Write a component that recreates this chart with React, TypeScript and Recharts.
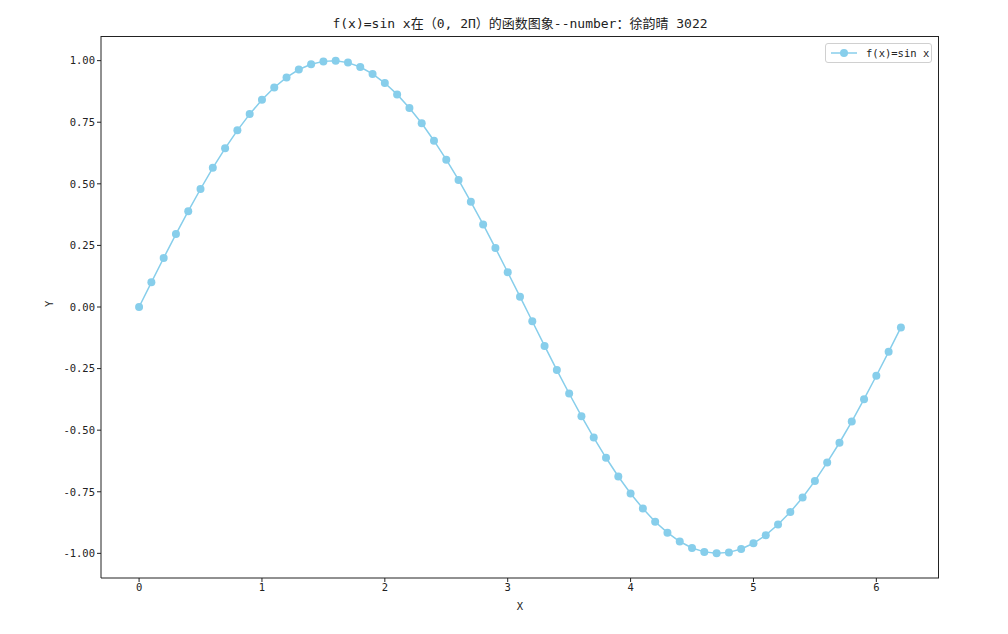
import React from 'react';
import {
  LineChart,
  Line,
  XAxis,
  YAxis,
  Label,
} from 'recharts';

// x from 0 to 6.2, step 0.1
const xValues = [
  0, 0.1, 0.2, 0.3, 0.4, 0.5, 0.6, 0.7, 0.8, 0.9,
  1.0, 1.1, 1.2, 1.3, 1.4, 1.5, 1.6, 1.7, 1.8, 1.9,
  2.0, 2.1, 2.2, 2.3, 2.4, 2.5, 2.6, 2.7, 2.8, 2.9,
  3.0, 3.1, 3.2, 3.3, 3.4, 3.5, 3.6, 3.7, 3.8, 3.9,
  4.0, 4.1, 4.2, 4.3, 4.4, 4.5, 4.6, 4.7, 4.8, 4.9,
  5.0, 5.1, 5.2, 5.3, 5.4, 5.5, 5.6, 5.7, 5.8, 5.9,
  6.0, 6.1, 6.2,
];

// sin x
const yValues = [
  0.0, 0.1, 0.199, 0.296, 0.389, 0.479, 0.565, 0.644, 0.717, 0.783,
  0.841, 0.891, 0.932, 0.964, 0.985, 0.997, 1.0, 0.992, 0.974, 0.946,
  0.909, 0.863, 0.808, 0.746, 0.675, 0.598, 0.516, 0.427, 0.335, 0.239,
  0.141, 0.042, -0.058, -0.158, -0.256, -0.351, -0.443, -0.53, -0.612, -0.688,
  -0.757, -0.818, -0.872, -0.916, -0.952, -0.978, -0.994, -1.0, -0.996, -0.982,
  -0.959, -0.926, -0.883, -0.832, -0.773, -0.706, -0.631, -0.551, -0.465, -0.374,
  -0.279, -0.182, -0.083,
];

const xTicks = [0, 1, 2, 3, 4, 5, 6];
const yTicks = [-1, -0.75, -0.5, -0.25, 0, 0.25, 0.5, 0.75, 1];

const chartTitle = 'f(x)=sin x在（0, 2Π）的函数图象--number：徐韵晴 3022';
const seriesName = 'f(x)=sin x';

const data = xValues.map((x, i) => ({ x, y: yValues[i] }));

const FONT = '"DejaVu Sans Mono", "Noto Sans CJK SC", monospace';
const COLOR = '#87CEEB';
const tickStyle = { fontSize: 10.5, fill: '#222', fontFamily: FONT };

const LegendBox = () => (
  <div
    style={{
      position: 'absolute',
      left: 825,
      top: 43,
      width: 107,
      height: 20,
      border: '1px solid #d0d0d0',
      borderRadius: 3,
      background: '#fff',
      display: 'flex',
      alignItems: 'center',
      fontFamily: FONT,
      fontSize: 10.5,
      color: '#222',
      boxSizing: 'border-box',
    }}
  >
    <svg width={36} height={18}>
      <line x1={5} y1={9} x2={31} y2={9} stroke={COLOR} strokeWidth={1.5} />
      <circle cx={18} cy={9} r={4} fill={COLOR} />
    </svg>
    <span style={{ marginLeft: 4 }}>{seriesName}</span>
  </div>
);

export default function App() {
  return (
    <div style={{ position: 'absolute', left: 0, top: 0, width: 1008, height: 634, background: '#fff' }}>
      <div
        style={{
          position: 'absolute',
          left: 101,
          width: 838,
          top: 13,
          textAlign: 'center',
          fontFamily: FONT,
          fontSize: 13,
          color: '#222',
        }}
      >
        {chartTitle}
      </div>
      <LineChart
        width={1008}
        height={634}
        data={data}
        margin={{ top: 36, right: 69, left: 41, bottom: 26 }}
      >
        <XAxis
          dataKey="x"
          type="number"
          domain={[-0.31, 6.51]}
          ticks={xTicks}
          tick={tickStyle}
          tickSize={4}
          height={30}
          stroke="#222"
          allowDataOverflow
        >
          <Label value="X" position="insideBottom" offset={-2} style={{ fontSize: 10.5, fill: '#222', fontFamily: FONT }} />
        </XAxis>
        <YAxis
          type="number"
          domain={[-1.1, 1.1]}
          ticks={yTicks}
          tickFormatter={(v: number) => v.toFixed(2)}
          tick={tickStyle}
          tickSize={4}
          width={60}
          stroke="#222"
          allowDataOverflow
        >
          <Label value="Y" angle={-90} position="insideLeft" offset={8} style={{ fontSize: 10.5, fill: '#222', fontFamily: FONT }} />
        </YAxis>
        <Line
          type="linear"
          dataKey="y"
          name={seriesName}
          stroke={COLOR}
          strokeWidth={1.5}
          dot={{ r: 4, fill: COLOR, stroke: COLOR, strokeWidth: 0 }}
          activeDot={false}
          isAnimationActive={false}
        />
      </LineChart>
      {/* top and right spines */}
      <div
        style={{
          position: 'absolute',
          left: 101,
          top: 36,
          width: 838,
          height: 542,
          borderTop: '1px solid #222',
          borderRight: '1px solid #222',
          boxSizing: 'border-box',
          pointerEvents: 'none',
        }}
      />
      <LegendBox />
    </div>
  );
}
